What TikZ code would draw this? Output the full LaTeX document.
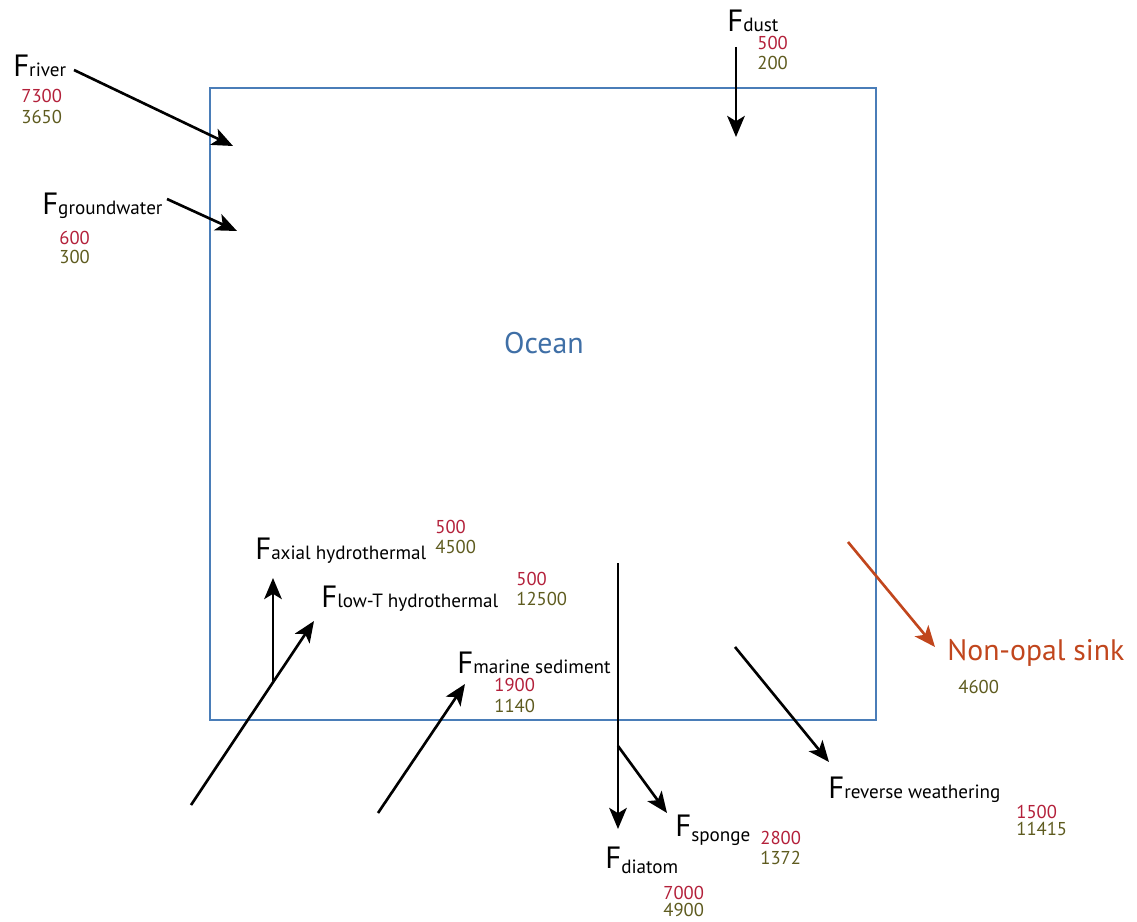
\documentclass[tikz,border=0pt]{standalone}
\usepackage{fontspec}
\setmainfont{PT Sans}
\usetikzlibrary{arrows.meta}

% a flux symbol: big F, smaller name on (or just under) its baseline
\newcommand{\flux}[2][0pt]{{\fontsize{17.5}{17}\selectfont F}\raisebox{#1}{\fontsize{10.9}{12}\selectfont #2}}

\begin{document}
\begin{tikzpicture}[
    x=0.02cm, y=-0.02cm,
    every node/.style={inner sep=0pt},
]

% ---------------------------------------------------------------- colours
\definecolor{boxblue}{HTML}{4A7DB8}    % the ocean reservoir
\definecolor{oceanblue}{HTML}{3F6FA6}
\definecolor{numred}{HTML}{B3203A}     % first estimate
\definecolor{numolive}{HTML}{5E5B1F}   % second estimate
\definecolor{sinkc}{HTML}{C1461D}

% ---------------------------------------------------------------- styles
\tikzset{
    flow/.style={
        -{Stealth[length=12pt, width=10pt, inset=3pt]},
        line width=1.5pt, black,
    },
    sinkflow/.style={flow, sinkc},
    fluxlbl/.style={anchor=base west, text=black},
    vala/.style={anchor=west, text=numred, font=\fontsize{10.6}{11}\selectfont},
    valb/.style={anchor=west, text=numolive, font=\fontsize{10.6}{11}\selectfont},
    oceanbox/.style={
        draw=boxblue, line width=1.2pt,
        minimum width=13.32cm, minimum height=12.64cm,
    },
}

\useasboundingbox (0,0) rectangle (1137,922);

% ================================================================
% GEOMETRY (pixel grid, y downwards)
%   ocean box    x in [210, 876], y in [88, 720]
%   inputs       left and top, sinks below and right
% ================================================================

% ---------------------------------------------------------------- ocean
\node[oceanbox] (box) at (543,404) {};
\node[text=oceanblue, font=\fontsize{17}{17}\selectfont] (ocean) at (544,343) {Ocean};

% ---------------------------------------------------------------- river
\node[fluxlbl] (friver) at (13,77) {\flux{river}};
\node[vala] (riverA) at (21,96) {7300};
\node[valb] (riverB) at (21,117) {3650};
\coordinate (riverS) at (74,70);
\coordinate (riverE) at (233,146);
\draw[flow] (riverS) -- (riverE);

% ---------------------------------------------------------------- groundwater
\node[fluxlbl] (fgw) at (42,215) {\flux{groundwater}};
\node[vala] (gwA) at (59,238) {600};
\node[valb] (gwB) at (59,257) {300};
\coordinate (gwS) at (167,199);
\coordinate (gwE) at (237,231);
\draw[flow] (gwS) -- (gwE);

% ---------------------------------------------------------------- dust
\node[fluxlbl] (fdust) at (727,32) {\flux{dust}};
\node[vala] (dustA) at (757,43) {500};
\node[valb] (dustB) at (757,63) {200};
\coordinate (dustS) at (736,47);
\coordinate (dustE) at (736,137);
\draw[flow] (dustS) -- (dustE);

% ---------------------------------------------------------------- hydrothermal
\node[fluxlbl] (faxial) at (255,560) {\flux{axial hydrothermal}};
\node[vala] (axA) at (435,527) {500};
\node[valb] (axB) at (435,547) {4500};

\node[fluxlbl] (flowt) at (321,607) {\flux{low-T hydrothermal}};
\node[vala] (ltA) at (516,579) {500};
\node[valb] (ltB) at (516,599) {12500};

\coordinate (ltS) at (191,805);
\coordinate (ltE) at (314,621);
\coordinate (axS) at (273,681);
\coordinate (axE) at (273,578);
\draw[flow] (ltS) -- (ltE);
\draw[flow] (axS) -- (axE);

% ---------------------------------------------------------------- marine sediment
\node[fluxlbl] (fmarine) at (457,673) {\flux{marine sediment}};
\node[vala] (msA) at (494,685) {1900};
\node[valb] (msB) at (494,706) {1140};
\coordinate (msS) at (378,813);
\coordinate (msE) at (465,684);
\draw[flow] (msS) -- (msE);

% ---------------------------------------------------------------- opal burial
\node[fluxlbl] (fdiatom) at (605,868) {\flux[-3pt]{diatom}};
\node[vala] (diA) at (663,893) {7000};
\node[valb] (diB) at (663,910) {4900};

\node[fluxlbl] (fsponge) at (675,836) {\flux[-3pt]{sponge}};
\node[vala] (spA) at (760,838) {2800};
\node[valb] (spB) at (760,858) {1372};

\coordinate (diS) at (618,563);
\coordinate (diE) at (618,829);
\coordinate (spS) at (618,746);
\coordinate (spE) at (667,813);
\draw[flow] (diS) -- (diE);
\draw[flow] (spS) -- (spE);

% ---------------------------------------------------------------- reverse weathering
\node[fluxlbl] (frw) at (828,798) {\flux{reverse weathering}};
\node[vala] (rwA) at (1016,812) {1500};
\node[valb] (rwB) at (1016,829) {11415};
\coordinate (rwS) at (735,647);
\coordinate (rwE) at (829,762);
\draw[flow] (rwS) -- (rwE);

% ---------------------------------------------------------------- non-opal sink
\node[anchor=base west, text=sinkc, font=\fontsize{16.9}{17}\selectfont] (sink) at (947,660) {Non-opal sink};
\node[valb] (sinkB) at (958,687) {4600};
\coordinate (sinkS) at (848,542);
\coordinate (sinkE) at (935,647);
\draw[sinkflow] (sinkS) -- (sinkE);

\end{tikzpicture}
\end{document}
